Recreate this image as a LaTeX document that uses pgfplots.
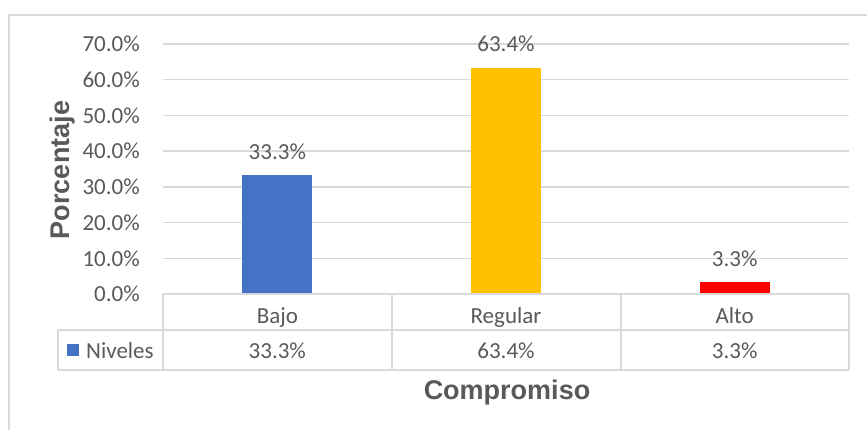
\documentclass[border=0pt]{standalone}
\usepackage{fontspec}
\setmainfont{Carlito}
\newfontfamily\titlefont{Liberation Sans}
\usepackage{pgfplots}
\pgfplotsset{compat=1.18}
\definecolor{textgray}{HTML}{595959}
\definecolor{gridgray}{HTML}{D9D9D9}
\definecolor{cblue}{HTML}{4472C4}
\definecolor{cgold}{HTML}{FFC000}
\definecolor{cred}{HTML}{FF0000}
\newcommand{\lblfont}{\fontsize{23}{27}\selectfont}
\newcommand{\ttlfont}{\titlefont\bfseries\fontsize{27}{31}\selectfont}
\begin{document}
\begin{tikzpicture}[x=1pt,y=1pt]
\useasboundingbox (0,0) rectangle (867,-430);
% chart border
\draw[gridgray, line width=2pt] (9,-430) -- (9,-15) -- (870,-15);
\begin{axis}[
  at={(163pt,-294pt)}, anchor=south west,
  scale only axis, width=686pt, height=250pt,
  xmin=-0.5, xmax=2.5, ymin=0, ymax=70,
  ytick={0,10,...,70},
  xtick={0,1,2}, xticklabels={Bajo,Regular,Alto},
  axis line style={draw=none}, major tick style={draw=none},
  ymajorgrids, grid style={gridgray, line width=1.5pt},
  /pgf/number format/.cd, fixed, fixed zerofill, precision=1, assume math mode=true,
  /pgfplots/.cd,
  yticklabel={\pgfmathprintnumber{\tick}\%},
  yticklabel style={font=\lblfont, text=textgray, inner sep=0pt, anchor=east, xshift=-23pt},
  xticklabel style={font=\lblfont, text=textgray, inner sep=0pt, anchor=base, yshift=-25.5pt},
  ybar, bar width=70pt,
  nodes near coords={\pgfmathprintnumber{\pgfplotspointmeta}\%},
  every node near coord/.append style={font=\lblfont, text=textgray, inner sep=0pt, anchor=base, yshift=16pt},
  clip=false,
]
\addplot[fill=cblue, draw=none, bar shift=0pt] coordinates {(0,33.3)};
\addplot[fill=cgold, draw=none, bar shift=0pt] coordinates {(1,63.4)};
\addplot[fill=cred, draw=none, bar shift=0pt] coordinates {(2,3.3)};
\end{axis}
% data table
\begin{scope}[gridgray, line width=1.5pt]
\draw (163,-294) -- (849,-294);
\draw (58,-330) -- (849,-330);
\draw (58,-370) -- (849,-370);
\draw (58,-330) -- (58,-370);
\draw (163,-294) -- (163,-370);
\draw (392,-294) -- (392,-370);
\draw (621,-294) -- (621,-370);
\draw (849,-294) -- (849,-370);
\end{scope}
\fill[cblue] (67,-344) rectangle (79,-356);
\node[font=\lblfont, text=textgray, anchor=base west, inner sep=0pt] at (86,-358) {Niveles};
\node[font=\lblfont, text=textgray, anchor=base, inner sep=0pt] at (277.3,-358) {33.3\%};
\node[font=\lblfont, text=textgray, anchor=base, inner sep=0pt] at (506,-358) {63.4\%};
\node[font=\lblfont, text=textgray, anchor=base, inner sep=0pt] at (734.7,-358) {3.3\%};
% axis titles
\node[font=\ttlfont, text=textgray, anchor=base, inner sep=0pt] at (507,-399) {Compromiso};
\node[font=\ttlfont, text=textgray, rotate=90, anchor=base, inner sep=0pt] at (69,-170) {Porcentaje};
\end{tikzpicture}
\end{document}
